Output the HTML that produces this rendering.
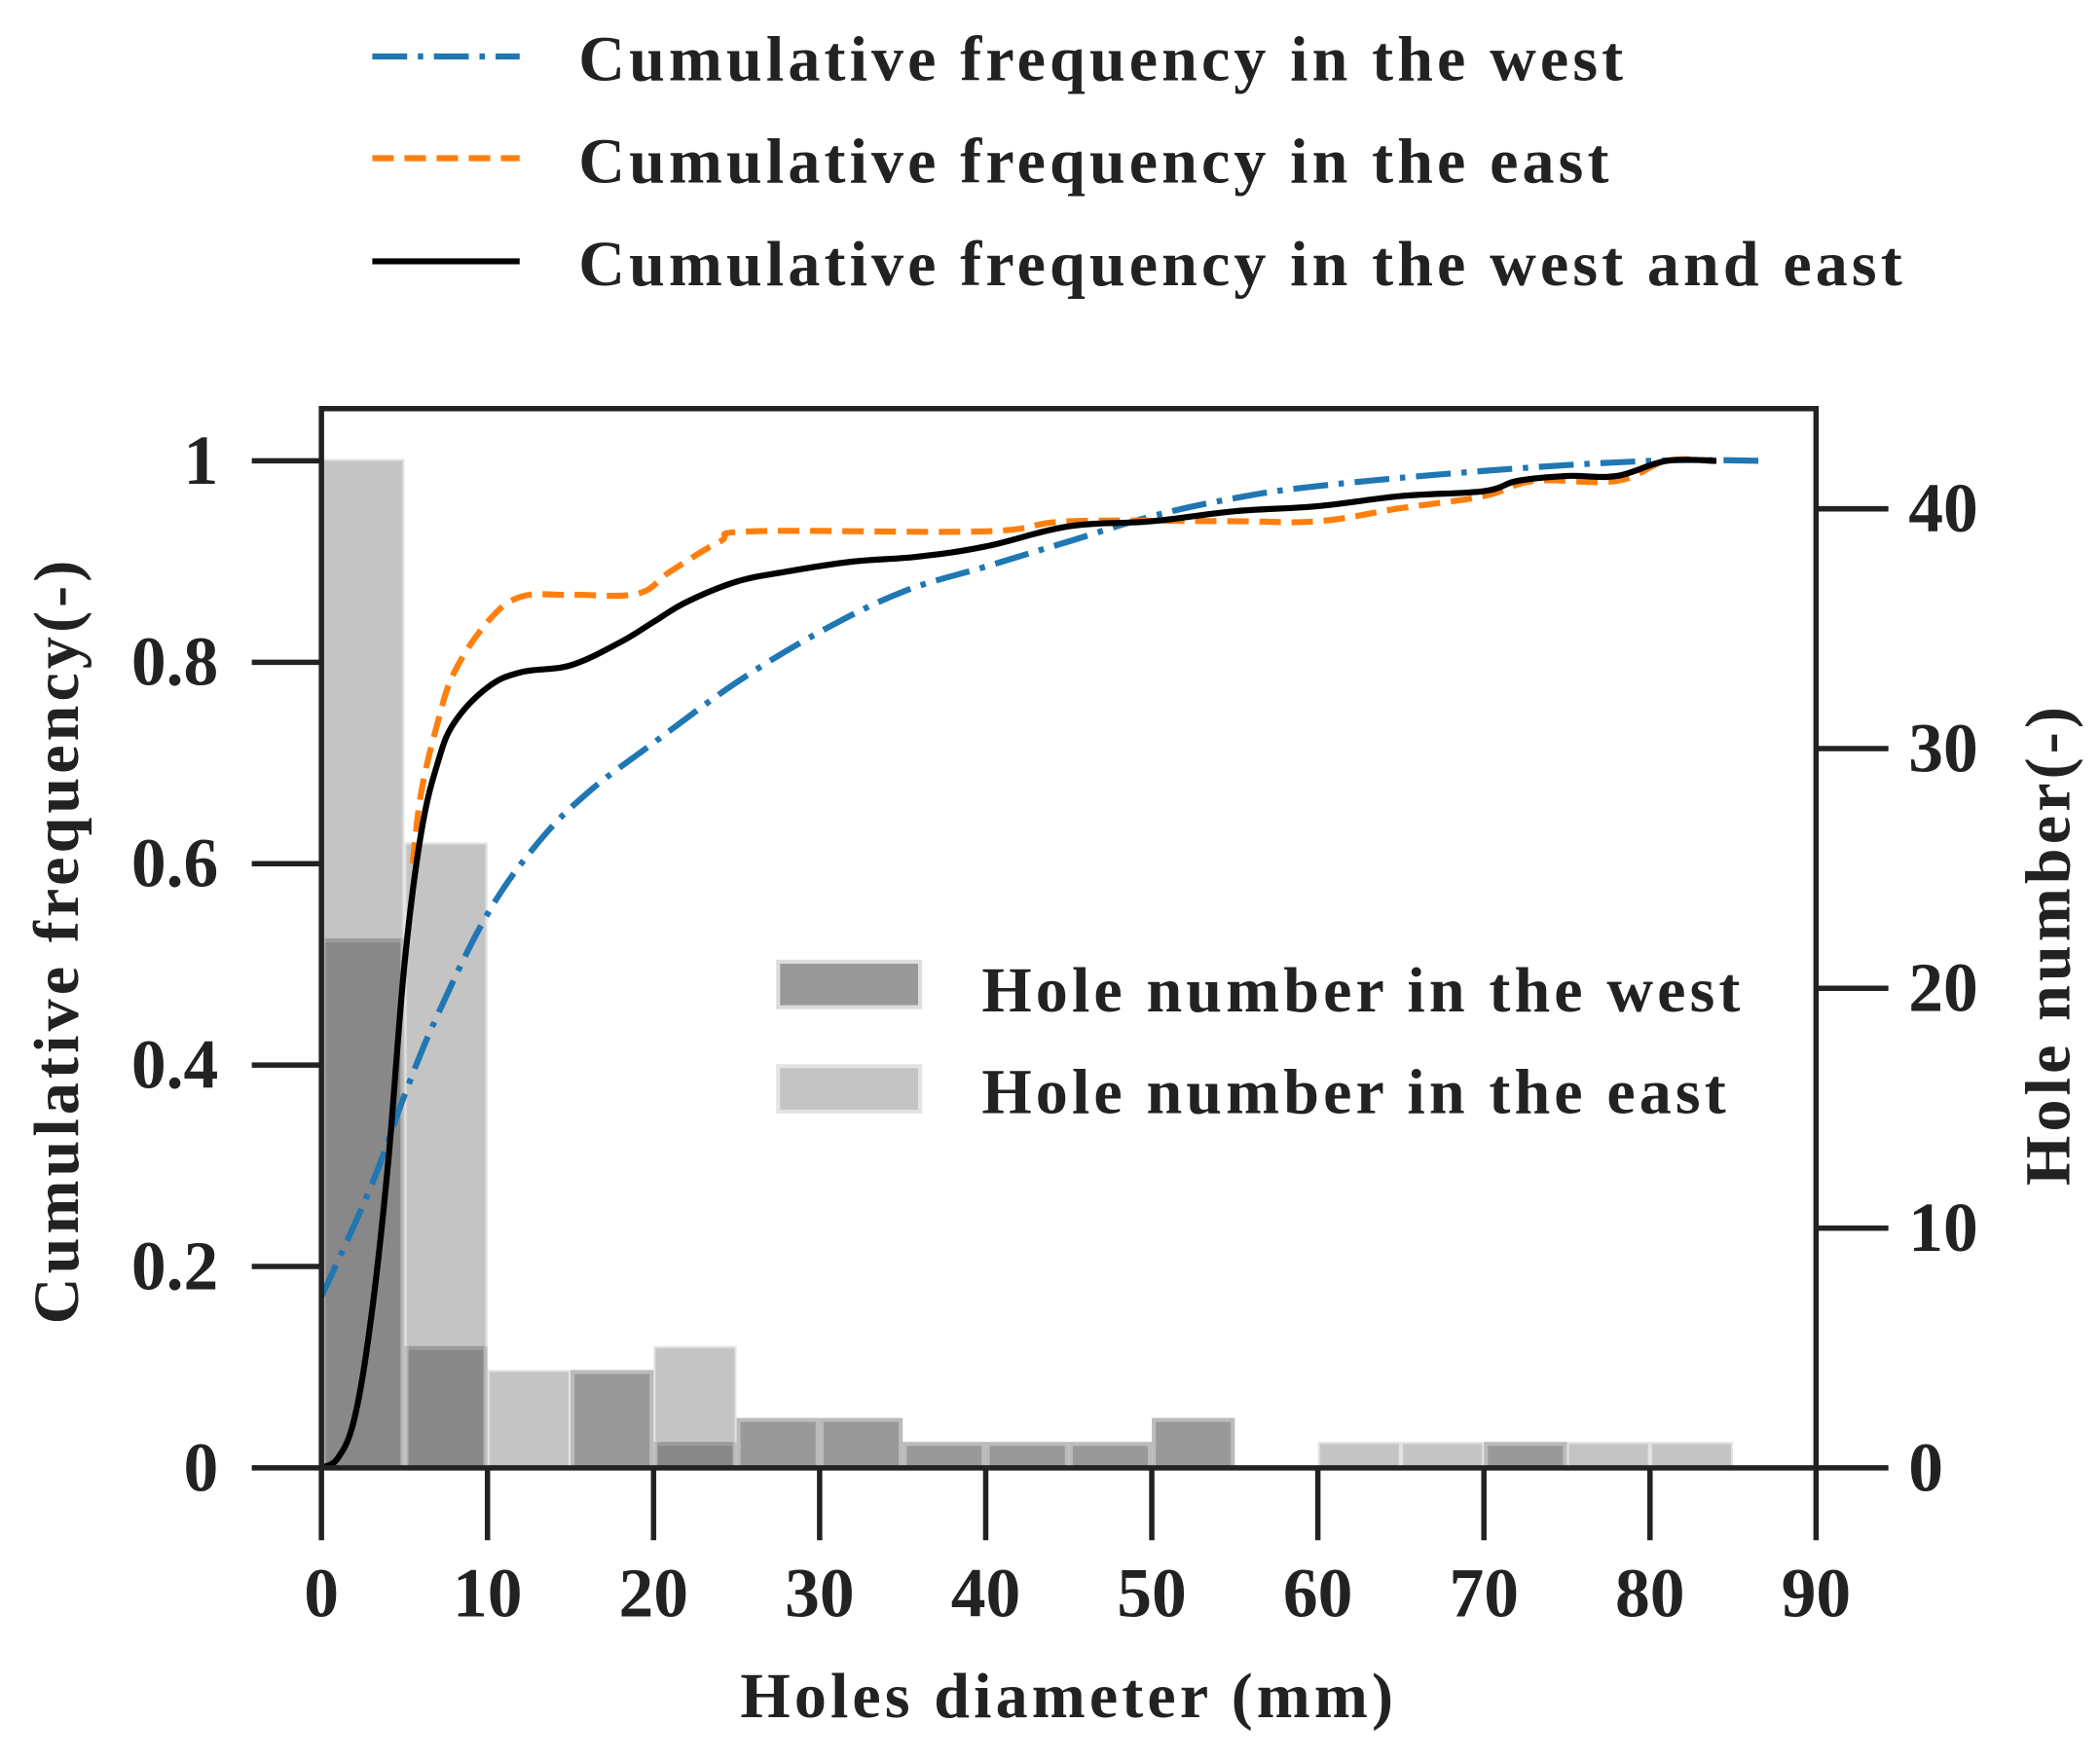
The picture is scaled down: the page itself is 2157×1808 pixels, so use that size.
<!DOCTYPE html>
<html><head><meta charset="utf-8"><style>html,body{margin:0;padding:0;background:#fff}svg{display:block}text{font-family:"Liberation Serif",serif;font-weight:bold;fill:#222}.lab{letter-spacing:3px}</style></head>
<body>
<svg id="chart" width="2157" height="1808" viewBox="0 0 1568 1314" xmlns="http://www.w3.org/2000/svg">
<g id="bars"></g>
<g id="lines"></g>
<g id="axes"></g>
<g>
<line x1="278" y1="42" x2="388" y2="42" stroke="#1f77b4" stroke-width="4.5" stroke-dasharray="26,8,4,8"/>
<text class="lab" x="432" y="60" font-size="48">Cumulative frequency in the west</text>
<line x1="278" y1="118" x2="388" y2="118" stroke="#ff7f0e" stroke-width="4.5" stroke-dasharray="16,8"/>
<text class="lab" x="432" y="136" font-size="48">Cumulative frequency in the east</text>
<line x1="278" y1="195" x2="388" y2="195" stroke="#000" stroke-width="4.5"/>
<text class="lab" x="432" y="213" font-size="48">Cumulative frequency in the west and east</text>
</g>
<g>
<rect x="581" y="718" width="106" height="34" fill="#999" stroke="#ddd" stroke-width="3"/>
<text class="lab" x="733" y="755" font-size="48">Hole number in the west</text>
<rect x="581" y="796" width="106" height="34" fill="#c4c4c4" stroke="#e4e4e4" stroke-width="3"/>
<text class="lab" x="733" y="831" font-size="48">Hole number in the east</text>
</g>
<text class="lab" transform="translate(58,702) rotate(-90)" text-anchor="middle" font-size="48">Cumulative frequency(-)</text>
<text class="lab" transform="translate(1545,705) rotate(-90)" text-anchor="middle" font-size="48">Hole number(-)</text>
<text class="lab" x="798" y="1282" text-anchor="middle" font-size="48">Holes diameter (mm)</text>
</svg>
<script>
const binStarts=[0,5,10,15,20,25,30,35,40,45,50,55,60,65,70,75,80];
const westHoles=[22,5,0,4,1,2,2,1,1,1,2,0,0,0,1,0,0];
const eastHoles=[42,26,4,0,5,0,0,0,0,0,0,0,1,1,0,1,1];
const westX=[0,3,5,7,10,13,16,20,25,30,35,40,45,50,55,60,70,80,87];
const westY=[0.17,0.28,0.37,0.45,0.55,0.62,0.67,0.72,0.78,0.83,0.87,0.895,0.92,0.945,0.963,0.975,0.99,1.0,1.0];
const eastX=[5.5,6,7,8,10,12,15,19,21,24,26,40,45,55,60,65,70,73,78,81,84];
const eastY=[0.6,0.67,0.74,0.79,0.84,0.865,0.867,0.868,0.89,0.92,0.93,0.93,0.94,0.94,0.94,0.953,0.965,0.98,0.98,1.0,1.0];
const totX=[0,1,2,3,4,5,6,7,8,10,12,15,18,20,22,25,28,32,36,40,45,50,55,60,65,70,72,75,78,81,84];
const totY=[0,0.01,0.05,0.15,0.3,0.5,0.63,0.7,0.74,0.775,0.79,0.797,0.82,0.84,0.86,0.88,0.89,0.9,0.905,0.915,0.935,0.94,0.95,0.955,0.965,0.97,0.98,0.985,0.985,1.0,1.0];
const xTicks=[0,10,20,30,40,50,60,70,80,90];
const yTicks=[0,0.2,0.4,0.6,0.8,1];
const yTickLabels=["0","0.2","0.4","0.6","0.8","1"];
const rTicks=[0,10,20,30,40];
const NS="http://www.w3.org/2000/svg";
const X0=240,X1=1356,YB=1096,YT=305;
const xs=v=>X0+v*(X1-X0)/90;
const yl=v=>YB-v*752;
const yr=v=>YB-v*(752/42);
function mk(tag,attrs,parent){const e=document.createElementNS(NS,tag);for(const k in attrs)e.setAttribute(k,attrs[k]);parent.appendChild(e);return e;}
const bars=document.getElementById('bars'),lines=document.getElementById('lines'),axes=document.getElementById('axes');
binStarts.forEach((b,i)=>{if(westHoles[i]>0){const r=mk('rect',{x:xs(b)+1.5,y:yr(westHoles[i]),width:xs(5)-X0-3,height:YB-yr(westHoles[i]),fill:'#999',stroke:'#bbb','stroke-width':3},bars);

}});
binStarts.forEach((b,i)=>{if(eastHoles[i]>0){const r=mk('rect',{x:xs(b)+1.5,y:yr(eastHoles[i]),width:xs(5)-X0-3,height:YB-yr(eastHoles[i]),fill:'rgba(112,112,112,0.41)',stroke:'rgba(200,200,200,0.5)','stroke-width':3},bars);

}});
function path(xa,ya){let d='M'+xs(xa[0]).toFixed(1)+','+yl(ya[0]).toFixed(1);
for(let i=1;i<xa.length;i++){const x0=xs(xa[i-1]),y0=yl(ya[i-1]),x1=xs(xa[i]),y1=yl(ya[i]);
const xp=i>1?xs(xa[i-2]):x0,yp=i>1?yl(ya[i-2]):y0,xn=i<xa.length-1?xs(xa[i+1]):x1,yn=i<xa.length-1?yl(ya[i+1]):y1;
const t=0.18;d+=' C'+(x0+(x1-xp)*t).toFixed(1)+','+(y0+(y1-yp)*t).toFixed(1)+' '+(x1-(xn-x0)*t).toFixed(1)+','+(y1-(yn-y0)*t).toFixed(1)+' '+x1.toFixed(1)+','+y1.toFixed(1);}
return d;}
let p=mk('path',{d:path(westX,westY),fill:'none',stroke:'#1f77b4','stroke-width':4.5,'stroke-dasharray':'26,8,4,8'},lines);


p=mk('path',{d:path(eastX,eastY),fill:'none',stroke:'#ff7f0e','stroke-width':4.5,'stroke-dasharray':'16,8'},lines);


p=mk('path',{d:path(totX,totY),fill:'none',stroke:'#000','stroke-width':4.5,'stroke-linejoin':'round'},lines);


mk('rect',{x:X0,y:YT,width:X1-X0,height:YB-YT,fill:'none',stroke:'#222','stroke-width':4},axes);
yTicks.forEach((t,i)=>{mk('line',{x1:188,x2:X0,y1:yl(t),y2:yl(t),stroke:'#222','stroke-width':4},axes);
const tx=mk('text',{x:163,y:yl(t)+17,'text-anchor':'end','font-size':52},axes);tx.textContent=yTickLabels[i];

});
rTicks.forEach(t=>{mk('line',{x1:X1,x2:1410,y1:yr(t),y2:yr(t),stroke:'#222','stroke-width':4},axes);
const tx=mk('text',{x:1425,y:yr(t)+17,'font-size':52},axes);tx.textContent=t;

});
xTicks.forEach(t=>{mk('line',{x1:xs(t),x2:xs(t),y1:YB,y2:1150,stroke:'#222','stroke-width':4},axes);
const tx=mk('text',{x:xs(t),y:1207,'text-anchor':'middle','font-size':52},axes);tx.textContent=t;

});
</script>
</body></html>
